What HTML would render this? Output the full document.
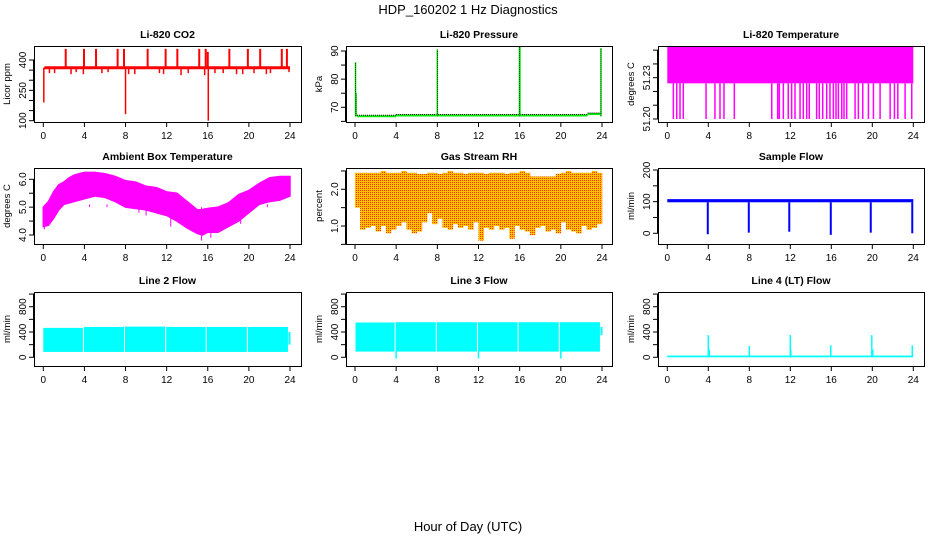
<!DOCTYPE html>
<html><head><meta charset="utf-8"><style>
html,body{margin:0;padding:0;background:#fff;}
svg{display:block;font-family:"Liberation Sans",Arial,sans-serif;}
</style></head><body>
<svg id="chart" width="936" height="540" viewBox="0 0 936 540">
<defs>
<pattern id="rhpat" width="2" height="2" patternUnits="userSpaceOnUse">
<rect width="2" height="2" fill="#ffc000"/><rect width="1" height="1" fill="#ff3000"/>
</pattern>
</defs>
<rect width="936" height="540" fill="#fff"/>
<text x="468" y="14" text-anchor="middle" font-size="13">HDP_160202  1 Hz Diagnostics</text>
<text x="468" y="531" text-anchor="middle" font-size="13">Hour of Day (UTC)</text>
</svg>
<script>
// ---- data ----
const xTicks=[0,4,8,12,16,20,24];
const co2BaseHours=[0.1,24.0];
const co2BaseVals=[362,362];
const co2SpikeHours=[2.18,3.96,5.13,7.23,7.85,10.15,11.9,13.04,15.17,15.8,16.0,18.1,19.9,21.1,23.2,23.7];
const co2SpikeVals=[455,455,455,455,455,455,455,455,455,455,440,455,455,455,455,455];
const co2DipHours=[0.05,0.6,1.1,2.7,3.2,3.9,5.7,6.3,8.0,8.3,8.9,11.3,11.7,13.4,14.1,15.7,16.05,16.7,17.5,18.8,19.4,20.5,21.7,22.1,23.9];
const co2DipVals=[190,335,335,330,340,330,335,340,132,330,330,335,330,325,335,325,100,335,335,330,330,335,330,335,340];
const presStepStart=[0.2,4.0,22.6];
const presStepEnd=[4.0,22.6,23.9];
const presStepVals=[66.8,67.1,67.6];
const presSpikeHours=[0.05,0.1,8.0,16.0,23.9];
const presSpikeVals=[86,75,90.5,91.5,91];
const tempLo=51.2259, tempHi=51.2525, tempFloor=51.20;
const tempDropHours=[0.59,0.92,1.24,1.56,3.78,4.65,5.14,5.53,6.54,10.19,10.77,10.93,11.32,11.8,12.13,12.46,12.95,13.27,13.6,13.85,14.57,14.83,15.16,15.55,15.87,16.2,16.46,16.69,17.02,17.24,17.5,18.32,18.64,19.07,19.62,20.11,20.76,21.74,22.16,22.49,23.2,23.85];
const ambHours=[0,0.5,1,1.5,2,2.5,3,4,5,6,7,8,9,10,11,12,13,14,15,15.5,16,17,18,19,20,21,22,23,24];
const ambUpper=[5.0,5.2,5.55,5.8,5.9,6.05,6.15,6.25,6.25,6.2,6.1,5.95,5.9,5.75,5.7,5.55,5.5,5.2,4.9,4.92,4.95,5.0,5.15,5.45,5.6,5.85,6.05,6.1,6.1];
const ambLower=[4.3,4.35,4.6,4.9,5.1,5.15,5.2,5.3,5.4,5.35,5.2,5.0,4.95,4.9,4.8,4.7,4.5,4.25,4.05,4.0,4.1,4.1,4.3,4.5,4.8,5.1,5.2,5.25,5.4];
const ambDipHours=[0.1,4.5,6.2,9.3,10.0,12.4,13.7,15.4,16.3,19.2,21.8];
const ambDipVals=[4.2,5.1,5.1,4.8,4.7,4.3,4.3,3.8,3.9,4.4,5.1];
const rhLow=[1.5,0.9,0.95,1.0,0.85,1.0,0.8,0.9,1.0,1.1,0.9,0.8,0.85,1.1,1.35,1.05,1.2,0.95,0.9,1.05,0.95,1.0,0.9,1.1,0.6,0.95,0.9,1.0,0.9,0.95,0.65,1.0,0.9,0.85,0.75,0.95,1.0,0.85,0.9,0.8,1.1,0.9,0.85,0.8,1.0,0.9,0.95,1.05];
const rhHigh=[2.45,2.45,2.45,2.45,2.45,2.5,2.45,2.45,2.45,2.5,2.45,2.45,2.42,2.42,2.45,2.45,2.42,2.45,2.5,2.45,2.45,2.42,2.45,2.45,2.45,2.42,2.45,2.45,2.45,2.42,2.45,2.45,2.5,2.45,2.35,2.35,2.35,2.35,2.35,2.42,2.45,2.5,2.45,2.45,2.45,2.45,2.5,2.45];
const flowBandLo=98, flowBandHi=108;
const flowDipHours=[3.95,7.95,11.9,15.95,19.85,23.9];
const flowDipVals=[-3,2,5,-5,2,0];
const l2SegStart=[0,3.95,7.95,11.95,15.9,19.9];
const l2SegEnd=[3.85,7.85,11.85,15.8,19.8,23.8];
const l2Top=[465,480,485,480,480,480];
const l2Bot=[85,85,85,85,85,85];
const l3SegStart=[0.05,3.95,7.95,11.95,15.9,19.9];
const l3SegEnd=[3.85,7.85,11.85,15.8,19.8,23.8];
const l3Top=[550,555,555,555,555,555];
const l3Bot=[90,90,90,90,90,90];
const l3DipHours=[4.0,12.0,20.0];
const l3DipVals=[-20,-20,-20];
const l4Base=[0,28];
const l4SpikeHours=[4.0,4.1,8.0,12.0,12.05,15.95,19.95,20.05,23.9];
const l4SpikeVals=[350,120,180,350,120,190,350,120,190];

// ---- rendering ----
const NS="http://www.w3.org/2000/svg";
const svg=document.getElementById('chart');
function el(tag,attrs,parent){const e=document.createElementNS(NS,tag);for(const k in attrs)e.setAttribute(k,attrs[k]);(parent||svg).appendChild(e);return e;}
function lin(a0,p0,a1,p1){return v=>p0+(v-a0)*(p1-p0)/(a1-a0);}
const colX=[lin(0,43.3,24,290),lin(0,355,24,602),lin(0,667.3,24,913.3)];
const colBox=[[34,301],[346,612],[658,924]];
const rowBox=[[46,122],[168,244],[292,366]];

function panel(name,col,row,title,ytitle,y,yt,yl,fmt){
  const g=el('g',{},svg);
  
  
  const [x0,x1]=colBox[col],[y0,y1]=rowBox[row];const x=colX[col];
  const t=el('text',{x:(x0+x1)/2,y:y0-8,'text-anchor':'middle','font-size':'10.5','font-weight':'bold'},g);t.textContent=title;
  
  
  const yt2=el('text',{transform:`translate(${x0-24},${(y0+y1)/2}) rotate(-90)`,'text-anchor':'middle','font-size':'9.5'},g);yt2.textContent=ytitle;
  
  
  const ax=el('g',{stroke:'#000','stroke-width':1},g);
  
  
  el('line',{x1:x(0),x2:x(24),y1:y1+0.5,y2:y1+0.5},ax);
  xTicks.forEach(v=>{el('line',{x1:x(v),x2:x(v),y1:y1,y2:y1+5},ax);
    const tl=el('text',{x:x(v),y:y1+17,'text-anchor':'middle','font-size':'10',stroke:'none'},g);tl.textContent=v;
    
    });
  const ay=el('g',{stroke:'#000','stroke-width':1},g);
  
  
  el('line',{x1:x0-0.5,x2:x0-0.5,y1:y(yt[0]),y2:y(yt[yt.length-1])},ay);
  yt.forEach(v=>el('line',{x1:x0-5,x2:x0,y1:y(v),y2:y(v)},ay));
  yl.forEach(v=>{const tl=el('text',{transform:`translate(${x0-8},${y(v)}) rotate(-90)`,'text-anchor':'middle','font-size':'10'},g);tl.textContent=fmt?v.toFixed(fmt):v;
    
    });
  const plot=el('g',{},g);
  
  
  el('rect',{x:x0+0.5,y:y0+0.5,width:x1-x0,height:y1-y0,fill:'none',stroke:'#000'},g);
  return {g:plot,x,y};
}
function vline(p,h,a,b,c,w){return el('line',{x1:p.x(h),x2:p.x(h),y1:p.y(a),y2:p.y(b),stroke:c,'stroke-width':w||1.5},p.g);}

// CO2
let p=panel('co2',0,0,'Li-820 CO2','Licor ppm',lin(100,120.7,400,60),[100,150,200,250,300,350,400],[100,250,400]);
co2BaseHours.forEach((h,i)=>{if(i<co2BaseHours.length-1)el('line',{x1:p.x(h),x2:p.x(co2BaseHours[i+1]),y1:p.y(co2BaseVals[i]),y2:p.y(co2BaseVals[i+1]),stroke:'#f00','stroke-width':3},p.g);});
co2SpikeHours.forEach((h,i)=>vline(p,h,co2BaseVals[0],co2SpikeVals[i],'#f00',2));
co2DipHours.forEach((h,i)=>vline(p,h,co2BaseVals[0],co2DipVals[i],'#f00',1.5));

// Pressure
p=panel('pressure',1,0,'Li-820 Pressure','kPa',lin(70,107.3,90,51),[65,70,75,80,85,90],[70,80,90]);
presStepStart.forEach((h,i)=>{el('line',{x1:p.x(h),x2:p.x(presStepEnd[i]),y1:p.y(presStepVals[i]),y2:p.y(presStepVals[i]),stroke:'#0e0','stroke-width':2},p.g);
  el('line',{x1:p.x(h),x2:p.x(presStepEnd[i]),y1:p.y(presStepVals[i])-1,y2:p.y(presStepVals[i])-1,stroke:'#000','stroke-width':1,'stroke-dasharray':'1,1'},p.g);});
presSpikeHours.forEach((h,i)=>{vline(p,h,presStepVals[0],presSpikeVals[i],'#0e0',i==3?2:1.5);
  vline(p,h,presStepVals[0],presSpikeVals[i],'#000',0.8).setAttribute('stroke-dasharray','1,1');});

// Temperature
p=panel('li820-temperature',2,0,'Li-820 Temperature','degrees C',lin(51.20,119,51.23,77.7),[51.20,51.21,51.22,51.23,51.24,51.25],[51.20,51.23],2);
el('rect',{x:p.x(0),y:p.y(tempHi),width:p.x(24)-p.x(0),height:p.y(tempLo)-p.y(tempHi),fill:'#f0f'},p.g);
tempDropHours.forEach(h=>vline(p,h,tempLo,tempFloor,'#f0f',1.5));

// Ambient
p=panel('ambient',0,1,'Ambient Box Temperature','degrees C',lin(4,235,6,179.3),[4,4.5,5,5.5,6],[4,5,6],1);
let pts=ambHours.map((h,i)=>p.x(h)+','+p.y(ambUpper[i])).concat(ambHours.map((h,i)=>p.x(h)+','+p.y(ambLower[i])).reverse());
el('polygon',{points:pts.join(' '),fill:'#f0f',stroke:'#f0f','stroke-width':1.5},p.g);
ambDipHours.forEach((h,i)=>vline(p,h,5.0,ambDipVals[i],'#f0f',1));

// RH
p=panel('rh',1,1,'Gas Stream RH','percent',lin(1,226,2,189.3),[0.5,1,1.5,2,2.5],[1,2],1);
rhLow.forEach((lo,i)=>{el('rect',{x:p.x(i*0.5),y:p.y(rhHigh[i]),width:p.x(0.5)-p.x(0)+0.3,height:p.y(lo)-p.y(rhHigh[i]),fill:'url(#rhpat)'},p.g);});

// Sample flow
p=panel('sample-flow',2,1,'Sample Flow','ml/min',lin(0,233.3,200,170),[0,50,100,150,200],[0,100,200]);
el('rect',{x:p.x(0),y:p.y(flowBandHi),width:p.x(24)-p.x(0),height:p.y(flowBandLo)-p.y(flowBandHi),fill:'#00f'},p.g);
flowDipHours.forEach((h,i)=>vline(p,h,flowBandLo,flowDipVals[i],'#00f',2));

// Line 2
p=panel('line2-flow',0,2,'Line 2 Flow','ml/min',lin(0,357.3,800,306.7),[0,200,400,600,800,1000],[0,400,800]);
l2SegStart.forEach((s,i)=>el('rect',{x:p.x(s),y:p.y(l2Top[i]),width:p.x(l2SegEnd[i])-p.x(s),height:p.y(l2Bot[i])-p.y(l2Top[i]),fill:'#0ff'},p.g));
vline(p,23.95,200,400,'#0ff',2);

// Line 3
p=panel('line3-flow',1,2,'Line 3 Flow','ml/min',lin(0,357.3,800,306.7),[0,200,400,600,800,1000],[0,400,800]);
l3SegStart.forEach((s,i)=>el('rect',{x:p.x(s),y:p.y(l3Top[i]),width:p.x(l3SegEnd[i])-p.x(s),height:p.y(l3Bot[i])-p.y(l3Top[i]),fill:'#0ff'},p.g));
l3DipHours.forEach((h,i)=>vline(p,h,100,l3DipVals[i],'#0ff',1.5));
vline(p,23.95,350,480,'#0ff',2);

// Line 4
p=panel('line4-flow',2,2,'Line 4 (LT) Flow','ml/min',lin(0,357.3,800,306.7),[0,200,400,600,800,1000],[0,400,800]);
el('rect',{x:p.x(0),y:p.y(l4Base[1]),width:p.x(24)-p.x(0),height:p.y(l4Base[0])-p.y(l4Base[1]),fill:'#0ff'},p.g);
l4SpikeHours.forEach((h,i)=>vline(p,h,0,l4SpikeVals[i],'#0ff',1.5));
</script>
</body></html>
